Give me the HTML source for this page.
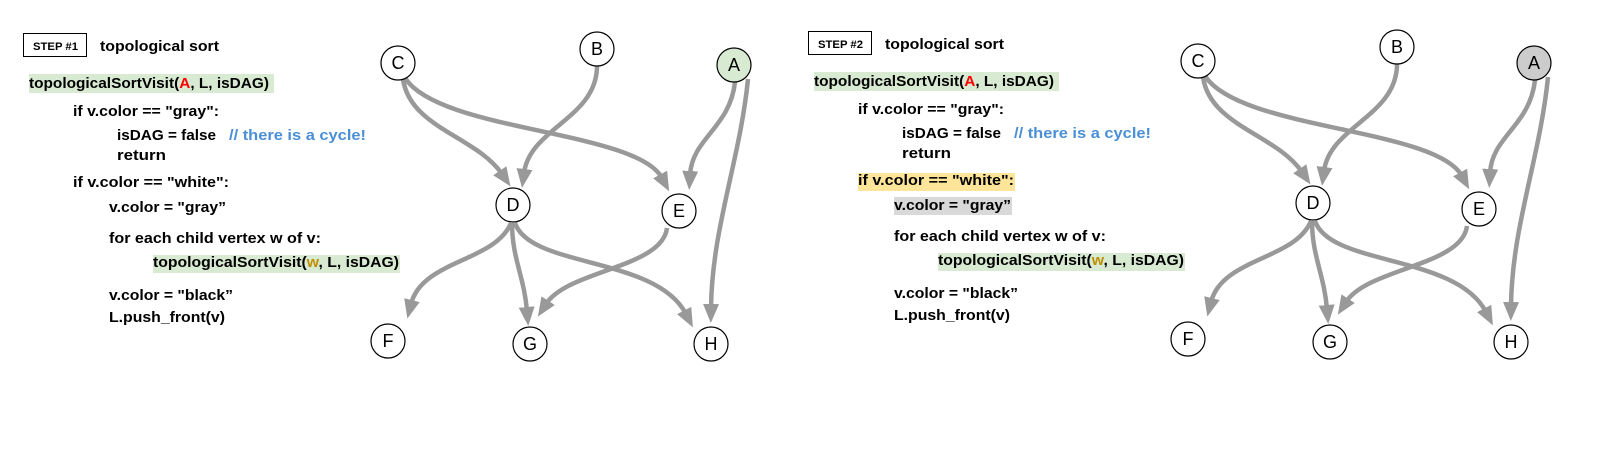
<!DOCTYPE html>
<html><head><meta charset="utf-8"><style>
html,body{margin:0;padding:0;background:#fff;}
svg{display:block;}
text{font-family:"Liberation Sans",sans-serif;font-weight:bold;fill:#000;}
.n{font-weight:normal;font-size:18px;}
</style></head><body>
<svg width="1607" height="449" viewBox="0 0 1607 449" xmlns="http://www.w3.org/2000/svg">
<defs>
<marker id="ar" markerUnits="userSpaceOnUse" markerWidth="24" markerHeight="20" refX="4" refY="8" orient="auto">
<path d="M0,0 L19,8 L0,16 z" fill="#999"/>
</marker>
<g id="graph">
<g fill="none" stroke="#999" stroke-width="4.5" marker-end="url(#ar)">
<path d="M403,79 C410,128 476,136 502,174"/>
<path d="M597,66 C597,118 530,128 524,173"/>
<path d="M405,78 C440,132 636,130 662,178"/>
<path d="M735,82 C730,128 692,138 690,175"/>
<path d="M748,79 C740,160 712,228 711,308"/>
<path d="M511,223 C495,262 422,260 411,304"/>
<path d="M512,223 C512,258 524,276 527,311"/>
<path d="M515,223 C530,268 656,256 686,314"/>
<path d="M667,228 C662,268 568,270 546,304"/>
</g>
<g stroke="#000" stroke-width="1.2">
<circle cx="398" cy="63" r="17" fill="#fff"/>
<circle cx="597" cy="49" r="17" fill="#fff"/>
<circle cx="513" cy="205" r="17" fill="#fff"/>
<circle cx="679" cy="211" r="17" fill="#fff"/>
<circle cx="388" cy="341" r="17" fill="#fff"/>
<circle cx="530" cy="344" r="17" fill="#fff"/>
<circle cx="711" cy="344" r="17" fill="#fff"/>
</g>
<text class="n" x="398" y="69" text-anchor="middle">C</text>
<text class="n" x="597" y="55" text-anchor="middle">B</text>
<text class="n" x="513" y="211" text-anchor="middle">D</text>
<text class="n" x="679" y="217" text-anchor="middle">E</text>
<text class="n" x="388" y="347" text-anchor="middle">F</text>
<text class="n" x="530" y="350" text-anchor="middle">G</text>
<text class="n" x="711" y="350" text-anchor="middle">H</text>
</g>
<g id="code">
<rect x="23.5" y="33.5" width="63" height="23" fill="#fff" stroke="#000"/>
<text x="100" y="51" font-size="15" textLength="119" lengthAdjust="spacingAndGlyphs">topological sort</text>
<rect x="29" y="74" width="245" height="19" fill="#d9ead3"/>
<text x="29" y="88" font-size="15" textLength="240" lengthAdjust="spacingAndGlyphs">topologicalSortVisit(<tspan style="fill:#f00">A</tspan>, L, isDAG)</text>
<text x="73" y="116" font-size="15" textLength="146" lengthAdjust="spacingAndGlyphs">if v.color == "gray":</text>
<text x="117" y="140" font-size="15" textLength="99" lengthAdjust="spacingAndGlyphs">isDAG = false</text>
<text x="229" y="140" font-size="15" style="fill:#4a8fd6" textLength="137" lengthAdjust="spacingAndGlyphs">// there is a cycle!</text>
<text x="117" y="160" font-size="15" textLength="49" lengthAdjust="spacingAndGlyphs">return</text>
<text x="73" y="187" font-size="15" textLength="156" lengthAdjust="spacingAndGlyphs">if v.color == "white":</text>
<text x="109" y="212" font-size="15" textLength="117" lengthAdjust="spacingAndGlyphs">v.color = "gray”</text>
<text x="109" y="243" font-size="15" textLength="212" lengthAdjust="spacingAndGlyphs">for each child vertex w of v:</text>
<rect x="153" y="255" width="247" height="18" fill="#d9ead3"/>
<text x="153" y="267" font-size="15" textLength="246" lengthAdjust="spacingAndGlyphs">topologicalSortVisit(<tspan style="fill:#bf9000">w</tspan>, L, isDAG)</text>
<text x="109" y="300" font-size="15" textLength="124" lengthAdjust="spacingAndGlyphs">v.color = "black”</text>
<text x="109" y="322" font-size="15" textLength="116" lengthAdjust="spacingAndGlyphs">L.push_front(v)</text>
</g>
</defs>

<!-- Panel 1 -->
<use href="#graph"/>
<circle cx="734" cy="65" r="17" fill="#d9ead3" stroke="#000" stroke-width="1.2"/>
<text class="n" x="734" y="71" text-anchor="middle">A</text>
<use href="#code"/>
<text x="33" y="50" font-size="11" textLength="45" lengthAdjust="spacingAndGlyphs">STEP #1</text>

<!-- Panel 2 -->
<g transform="translate(785,-2)">
<rect x="73" y="175" width="157" height="18" fill="#ffe599"/>
<rect x="109" y="199" width="118" height="18" fill="#d9d9d9"/>
<use href="#code"/>
<text x="33" y="50" font-size="11" textLength="45" lengthAdjust="spacingAndGlyphs">STEP #2</text>
</g>
<g transform="translate(800,-2)">
<use href="#graph"/>
<circle cx="734" cy="65" r="17" fill="#cccccc" stroke="#000" stroke-width="1.2"/>
<text class="n" x="734" y="71" text-anchor="middle">A</text>
</g>
</svg>
</body></html>
